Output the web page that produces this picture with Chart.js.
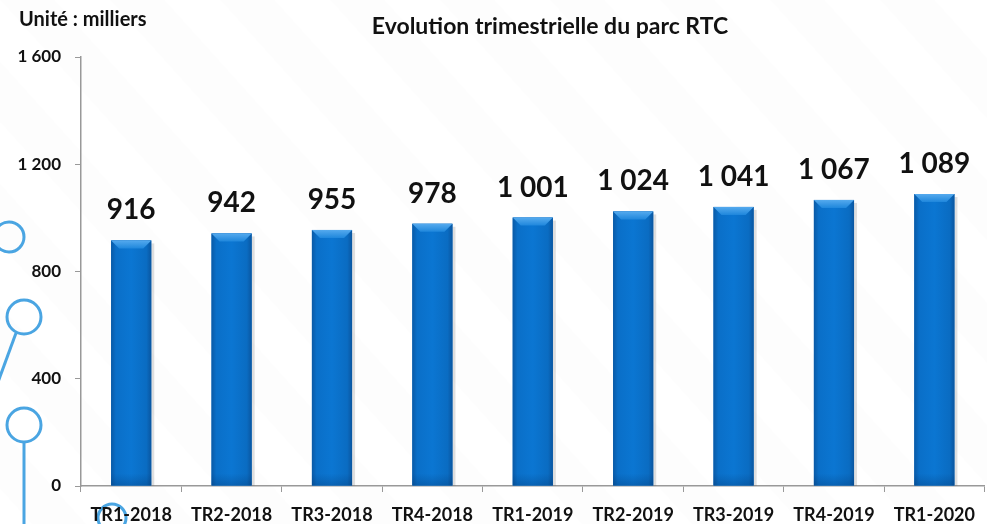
<!DOCTYPE html>
<html>
<head>
<meta charset="utf-8">
<script src="https://cdn.jsdelivr.net/npm/chart.js@4"></script>
<style>
  html, body { margin: 0; padding: 0; background: #fff; }
  #wrap { width: 987px; height: 524px; }
</style>
</head>
<body>
<div id="wrap"><canvas id="chart_parc" width="987" height="524"></canvas></div>
<script>
const categories = ['TR1-2018', 'TR2-2018', 'TR3-2018', 'TR4-2018', 'TR1-2019', 'TR2-2019', 'TR3-2019', 'TR4-2019', 'TR1-2020'];
const parcValues = [916, 942, 955, 978, 1001, 1024, 1041, 1067, 1089];
const yTicks = [0, 400, 800, 1200, 1600];
const chartTitle = 'Evolution trimestrielle du parc RTC';
const unitLabel = 'Unité : milliers';

const FONT = 'Lato, "Open Sans", sans-serif';
const fmt = (n) => String(n).replace(/\B(?=(\d{3})+(?!\d))/g, ' ');

// faint diagonal bands + blue network decoration on the left
const backdrop = {
    id: 'backdrop',
    beforeDraw(chart) {
        const ctx = chart.ctx;
        const w = chart.width, h = chart.height;
        ctx.save();
        ctx.fillStyle = '#ffffff';
        ctx.fillRect(0, 0, w, h);
        ctx.fillStyle = 'rgba(0,0,0,0.007)';
        for (let i = -6; i < 14; i++) {
            const x0 = i * 110;
            ctx.beginPath();
            ctx.moveTo(x0, 0);
            ctx.lineTo(x0 + 55, 0);
            ctx.lineTo(x0 + 55 + h * 0.9, h);
            ctx.lineTo(x0 + h * 0.9, h);
            ctx.closePath();
            ctx.fill();
        }
        ctx.strokeStyle = '#4aa5e2';
        ctx.lineWidth = 3;
        const circle = (x, y, r) => { ctx.beginPath(); ctx.arc(x, y, r, 0, Math.PI * 2); ctx.stroke(); };
        circle(9, 237, 15);
        circle(24, 317, 17);
        circle(24, 425, 17);
        circle(112, 518, 14);
        ctx.beginPath(); ctx.moveTo(16, 333); ctx.lineTo(-2, 382); ctx.stroke();
        ctx.beginPath(); ctx.moveTo(24, 442); ctx.lineTo(24, 530); ctx.stroke();
        ctx.restore();
    },
    afterDraw(chart) {
        const ctx = chart.ctx;
        ctx.save();
        ctx.fillStyle = '#111';
        ctx.textBaseline = 'middle';
        ctx.font = 'bold 20px ' + FONT;
        ctx.textAlign = 'left';
        ctx.fillText(unitLabel, 19, 20);
        ctx.font = 'bold 23px ' + FONT;
        ctx.textAlign = 'center';
        ctx.fillText(chartTitle, 550, 27);
        ctx.restore();
    }
};

// bevelled look of the bars and values above them
const barStyle = {
    id: 'barStyle',
    afterDatasetsDraw(chart) {
        const ctx = chart.ctx;
        const meta = chart.getDatasetMeta(0);
        ctx.save();
        meta.data.forEach((bar, i) => {
            const { x, y, base, width } = bar.getProps(['x', 'y', 'base', 'width'], true);
            const l = x - width / 2, r = x + width / 2;
            // shadow on the right
            ctx.fillStyle = 'rgba(0,0,0,0.12)';
            ctx.fillRect(r, y + 3, 3, base - y - 3);
            const g = ctx.createLinearGradient(l, 0, r, 0);
            g.addColorStop(0, '#0a5aa6');
            g.addColorStop(0.12, '#0a6fc8');
            g.addColorStop(0.5, '#0b76d2');
            g.addColorStop(0.88, '#0a6cc2');
            g.addColorStop(1, '#0a56a0');
            ctx.fillStyle = g;
            ctx.fillRect(l, y, width, base - y);
            // top bevel
            const b = 8;
            const tg = ctx.createLinearGradient(0, y, 0, y + b);
            tg.addColorStop(0, '#55aaee');
            tg.addColorStop(1, '#1f87dc');
            ctx.fillStyle = tg;
            ctx.beginPath();
            ctx.moveTo(l, y); ctx.lineTo(r, y); ctx.lineTo(r - b, y + b); ctx.lineTo(l + b, y + b);
            ctx.closePath(); ctx.fill();
            // bottom darker band
            const bg = ctx.createLinearGradient(0, base - 12, 0, base);
            bg.addColorStop(0, 'rgba(0,40,90,0)');
            bg.addColorStop(1, 'rgba(0,40,90,0.25)');
            ctx.fillStyle = bg;
            ctx.fillRect(l, base - 12, width, 12);

            ctx.fillStyle = '#111';
            ctx.font = 'bold 28px ' + FONT;
            ctx.textAlign = 'center';
            ctx.textBaseline = 'bottom';
            ctx.fillText(fmt(parcValues[i]), x, y - 16);
        });
        ctx.restore();
    }
};

new Chart(document.getElementById('chart_parc'), {
    type: 'bar',
    data: {
        labels: categories,
        datasets: [{
            label: chartTitle,
            data: parcValues,
            backgroundColor: '#0a6fc8',
            borderWidth: 0,
            barPercentage: 0.8,
            categoryPercentage: 0.5
        }]
    },
    options: {
        responsive: false,
        animation: false,
        devicePixelRatio: 1,
        layout: { padding: { top: 57, left: 0, right: 0, bottom: 0 } },
        plugins: {
            legend: { display: false },
            title: { display: false },
            tooltip: { enabled: false }
        },
        scales: {
            x: {
                grid: { drawOnChartArea: false, tickLength: 6, color: '#999', tickColor: '#999' },
                border: { color: '#999', width: 1.5 },
                ticks: { color: '#111', padding: 12, font: { family: FONT, size: 18, weight: 'bold' }, maxRotation: 0 },
                afterFit: (scale) => { scale.height = 38; }
            },
            y: {
                min: 0,
                max: 1600,
                afterBuildTicks: (scale) => { scale.ticks = yTicks.map(v => ({ value: v })); },
                grid: { drawOnChartArea: false, tickLength: 6, color: '#999', tickColor: '#999' },
                border: { color: '#999', width: 1.5 },
                ticks: {
                    color: '#111', padding: 14,
                    font: { family: FONT, size: 17, weight: 'bold' },
                    callback: (v) => fmt(v)
                },
                afterFit: (scale) => { scale.width = 81; }
            }
        }
    },
    plugins: [backdrop, barStyle]
});
</script>
</body>
</html>
